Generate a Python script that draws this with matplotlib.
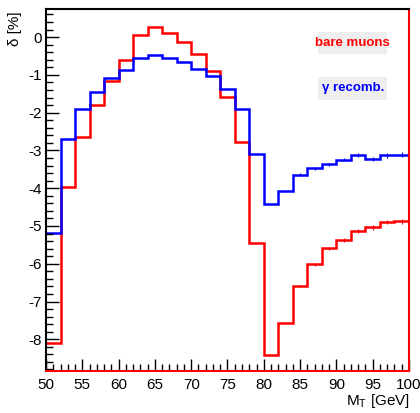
import numpy as np
import matplotlib
matplotlib.use("Agg")
import matplotlib.pyplot as plt
from matplotlib.ticker import MultipleLocator
from matplotlib.patches import Rectangle

plt.rcParams['font.family'] = ['Liberation Sans Narrow', 'Liberation Sans', 'DejaVu Sans']
plt.rcParams['axes.unicode_minus'] = False

# M_T binning (GeV)
bin_edges = np.arange(50, 101, 2)

# relative correction delta [%] per bin
bare_muons = [-8.09, -3.96, -2.64, -1.80, -1.16, -0.61, 0.07, 0.28, 0.11, -0.13,
              -0.45, -0.90, -1.58, -2.78, -5.44, -8.41, -7.57, -6.58, -6.01, -5.59,
              -5.37, -5.13, -5.04, -4.90, -4.88]
gamma_recomb = [-5.18, -2.71, -1.89, -1.46, -1.09, -0.87, -0.54, -0.48, -0.56, -0.66,
                -0.85, -1.03, -1.38, -1.90, -3.10, -4.42, -4.07, -3.64, -3.47, -3.36,
                -3.24, -3.12, -3.23, -3.13, -3.11]
stat_err = [0.0] * 17 + [0.03, 0.04, 0.04, 0.05, 0.05, 0.06, 0.06, 0.06]

fig = plt.figure(figsize=(4.2, 4.13), dpi=100)
ax = fig.add_axes([0.1095, 0.1017, 0.8643, 0.876])

centers = 0.5 * (bin_edges[:-1] + bin_edges[1:])
ax.stairs(bare_muons, bin_edges, color='#ff0000', lw=1.8, baseline=None)
ax.errorbar(centers, bare_muons, yerr=stat_err, fmt='none', ecolor='#ff0000', elinewidth=0.8)
ax.stairs(gamma_recomb, bin_edges, color='#0000ff', lw=1.8, baseline=None)
ax.errorbar(centers, gamma_recomb, yerr=stat_err, fmt='none', ecolor='#0000ff', elinewidth=0.8)

ax.set_xlim(50, 100)
ax.set_ylim(-8.84, 0.74)

ax.xaxis.set_major_locator(MultipleLocator(5))
ax.xaxis.set_minor_locator(MultipleLocator(1))
ax.yaxis.set_major_locator(MultipleLocator(1))
ax.yaxis.set_minor_locator(MultipleLocator(0.2))
ax.tick_params(which='both', direction='in', top=False, right=False, labelsize=11, width=1)
ax.tick_params(which='major', length=9)
ax.tick_params(which='minor', length=5)
ax.tick_params(axis='x', pad=5)
ax.tick_params(axis='y', pad=3)

for side in ('left', 'top'):
    ax.spines[side].set_color('black')
    ax.spines[side].set_linewidth(1.5)
for side in ('right', 'bottom'):
    ax.spines[side].set_color('#ff0000')
    ax.spines[side].set_linewidth(1.5)

fig.text(0.035, 0.93, 'δ [%]', rotation=90, ha='center', va='center', fontsize=11)
fig.text(0.977, 0.008, r'M$_\mathregular{T}$ [GeV]', ha='right', va='bottom', fontsize=11)

# labelled boxes for the two samples
for (y0, y1, label, col, ty) in [(0.876, 0.936, 'bare muons', '#ff0000', 0.906),
                                 (0.749, 0.812, 'γ recomb.', '#0000ff', 0.781)]:
    ax.add_patch(Rectangle((0.749, y0), 0.19, y1 - y0, transform=ax.transAxes,
                           fc='#eeeeee', ec='none', zorder=3))
    ax.text(0.845, ty, label, transform=ax.transAxes, ha='center', va='center',
            color=col, fontsize=9.5, fontweight='bold', zorder=4)

fig.savefig('out.png', dpi=100)
